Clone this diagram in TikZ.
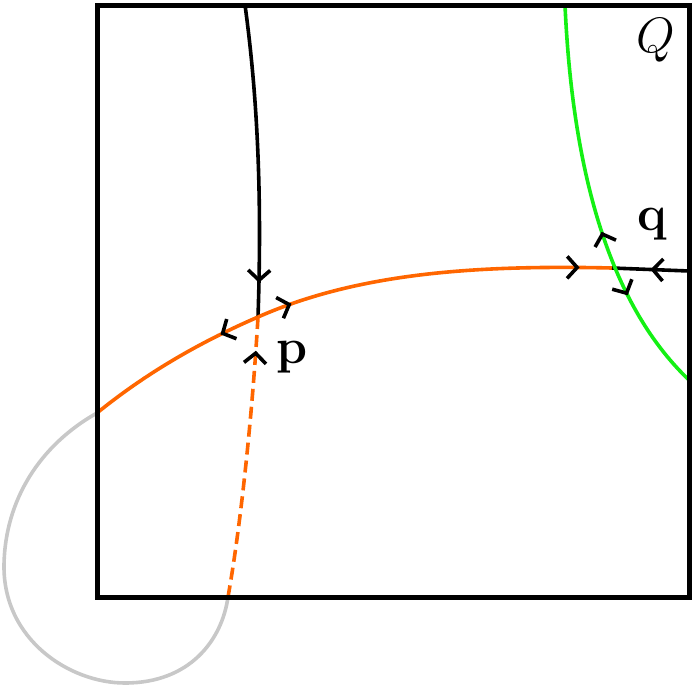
\documentclass[tikz,border=0pt]{standalone}
\usetikzlibrary{arrows.meta,decorations.markings}
\definecolor{orng}{RGB}{255,102,0}
\definecolor{grn}{RGB}{20,240,20}
\definecolor{gry}{RGB}{200,200,200}
\tikzset{
  chev/.tip={Straight Barb[length=5pt,width=11pt,line width=1.8pt,color=black]},
  curve/.style={line width=1.8pt},
  fwd/.style={postaction={decorate,decoration={markings,mark=at position #1 with {\arrow{chev}}}}},
  bwd/.style={postaction={decorate,decoration={markings,mark=at position #1 with {\arrowreversed{chev}}}}},
  lbl/.style={font=\fontsize{23}{27}\selectfont, inner sep=0pt}
}
\begin{document}
\begin{tikzpicture}[x=0.5pt,y=-0.5pt]
\useasboundingbox (0,0) rectangle (692,687);
\coordinate (tl) at (97,5);
\coordinate (br) at (689,597);
\coordinate (a) at (97,413);
\coordinate (p) at (258,317);
\coordinate (q) at (612,268);
\coordinate (topb) at (245,5);
\coordinate (rightb) at (689,271);
\coordinate (dend) at (228,597);
\coordinate (gtop) at (565,5);
\coordinate (gbot) at (689,380);
% gray loop
\draw[curve,gry] (a) .. controls (40,445) and (5,500) .. (4,565)
   .. controls (3,640) and (70,683) .. (125,683)
   .. controls (190,683) and (222,640) .. (dend);
% dashed orange
\draw[curve,orng,dashed,dash pattern=on 6pt off 3pt,bwd=0.12] (p) .. controls (252,420) and (240,530) .. (dend);
% black top
\draw[curve,black,fwd=0.89] (topb) .. controls (258,100) and (262,200) .. (p);
% orange
\draw[curve,orng,bwd=0.78] (a) .. controls (150,370) and (205,340) .. (p);
\draw[curve,orng,fwd=0.1,fwd=0.91] (p) .. controls (360,272) and (480,265) .. (q);
% black right
\draw[curve,black,bwd=0.5] (q) -- (rightb);
% green
\draw[curve,grn,bwd=0.57,fwd=0.74] (gtop) .. controls (572,160) and (605,300) .. (gbot);
% square
\draw[line width=2.5pt] (tl) rectangle (br);
\node[lbl] (lp) at (292,357) {$\mathbf{p}$};
\node[lbl] (lq) at (652,224) {$\mathbf{q}$};
\node[lbl] (lQ) at (656,40) {$Q$};
\end{tikzpicture}
\end{document}
